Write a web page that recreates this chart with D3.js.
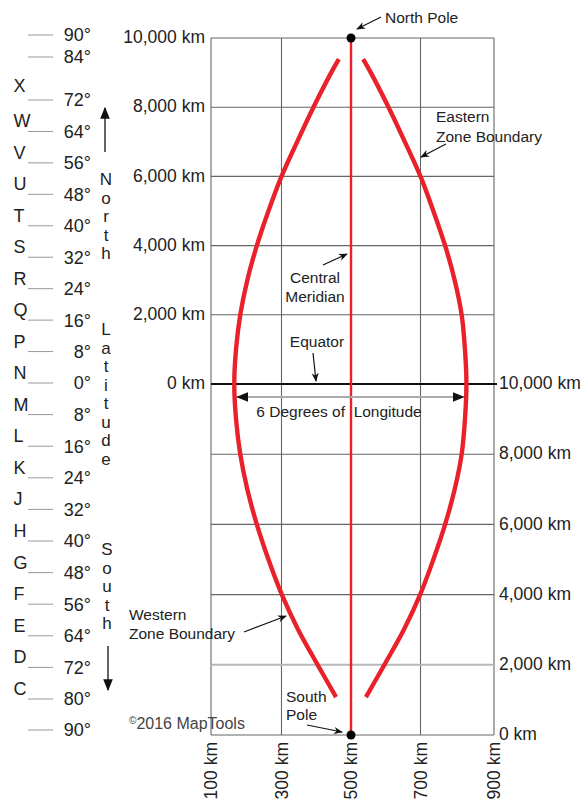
<!DOCTYPE html>
<html><head><meta charset="utf-8">
<script src="https://cdn.jsdelivr.net/npm/d3@7"></script>
<style>
html,body{margin:0;padding:0;background:#fff;}
svg{display:block;font-family:"Liberation Sans",Arial,Helvetica,sans-serif;}
</style></head>
<body>
<script>
// ---- data ----
const eastingTicks = [100, 300, 500, 700, 900];               // km
const northTicks = [0, 2000, 4000, 6000, 8000, 10000];         // km north of equator
const southTicks = [0, 2000, 4000, 6000, 8000, 10000];         // km false northing (south)
// zone boundary curves: signed northing from the equator (km) and easting (km)
const boundaryNorthing = [9390, 9000, 8000, 7000, 6000, 5000, 4000, 3000, 2000, 1000, 0,
  -1000, -2000, -3000, -4000, -5000, -6000, -7000, -8000, -8920];
const westEasting = [465, 443, 392, 345, 300, 263, 230, 203, 183, 171, 166,
  171, 183, 203, 230, 263, 301, 348, 404, 457];
const eastEasting = [535, 557, 608, 655, 700, 735, 767, 793, 812, 821, 825,
  821, 812, 793, 767, 735, 699, 652, 596, 543];
const centralMeridian = 500;
// latitude band column
const latNorth = [90, 84, 72, 64, 56, 48, 40, 32, 24, 16, 8, 0];
const latSouth = [8, 16, 24, 32, 40, 48, 56, 64, 72, 80, 90];
const zoneLetters = ["X","W","V","U","T","S","R","Q","P","N","M","L","K","J","H","G","F","E","D","C"];
const zoneLetterLat = [72, 64, 56, 48, 40, 32, 24, 16, 8, 0, -8, -16, -24, -32, -40, -48, -56, -64, -72, -80];
const wordNorth = "North", wordLat = "Latitude", wordSouth = "South";

// ---- layout ----
const W = 585, H = 800;
const svg = d3.select("body").append("svg").attr("width", W).attr("height", H);
const x = d3.scaleLinear().domain([100, 300, 500, 700, 900]).range([211, 281.5, 351, 420.5, 494]);
const y = d3.scaleLinear().domain([-10000, 0, 10000]).range([735, 384, 38]);
const ySouth = v => y(v - 10000);
const latY = d3.scaleLinear().domain([-90, -80, 0, 72, 84, 90]).range([730, 699, 383, 100, 57, 35]);
const RED = "#e8212b", TXT = "#222";

const defs = svg.append("defs");
defs.append("marker").attr("id", "ah").attr("viewBox", "0 0 10 10").attr("refX", 9).attr("refY", 5)
  .attr("markerWidth", 9).attr("markerHeight", 9).attr("markerUnits", "userSpaceOnUse").attr("orient", "auto-start-reverse")
  .append("path").attr("d", "M0,1 L10,5 L0,9 L3,5 Z").attr("fill", "#111");
defs.append("marker").attr("id", "ah2").attr("viewBox", "0 0 10 10").attr("refX", 9).attr("refY", 5)
  .attr("markerWidth", 12).attr("markerHeight", 12).attr("markerUnits", "userSpaceOnUse").attr("orient", "auto-start-reverse")
  .append("path").attr("d", "M0,1 L10,5 L0,9 Z").attr("fill", "#111");

// ---- grid ----
const g = svg.append("g");
g.selectAll("line.v").data(eastingTicks).join("line")
  .attr("x1", d => x(d)).attr("x2", d => x(d)).attr("y1", y(10000)).attr("y2", y(-10000))
  .attr("stroke", "#666").attr("stroke-width", 1.1);
g.selectAll("line.hn").data(northTicks.filter(d => d > 0)).join("line")
  .attr("x1", x(100)).attr("x2", x(900)).attr("y1", d => y(d)).attr("y2", d => y(d))
  .attr("stroke", "#666").attr("stroke-width", 1.1);
g.selectAll("line.hs").data(southTicks.filter(d => d < 10000)).join("line")
  .attr("x1", x(100)).attr("x2", x(900)).attr("y1", d => ySouth(d)).attr("y2", d => ySouth(d))
  .attr("stroke", d => d === 2000 ? "#b8b8b8" : "#666").attr("stroke-width", d => d === 2000 ? 2 : 1.1);
// equator
g.append("line").attr("x1", x(100)).attr("x2", x(900) + 3).attr("y1", y(0)).attr("y2", y(0))
  .attr("stroke", "#111").attr("stroke-width", 2.2);

// ---- axis labels ----
const FS = 17.5;
svg.selectAll("text.ln").data(northTicks).join("text")
  .attr("x", 205).attr("y", d => y(d)).attr("dy", "0.3em").attr("text-anchor", "end")
  .attr("font-size", FS).attr("fill", TXT).text(d => d3.format(",")(d) + " km");
svg.selectAll("text.rs").data(southTicks).join("text")
  .attr("x", 499).attr("y", d => ySouth(d)).attr("dy", "0.3em")
  .attr("font-size", FS).attr("fill", TXT).text(d => d3.format(",")(d) + " km");
svg.selectAll("text.bx").data(eastingTicks).join("text")
  .attr("transform", d => `translate(${x(d)},${y(-10000) + 7}) rotate(-90)`)
  .attr("dy", "0.36em").attr("text-anchor", "end")
  .attr("font-size", FS).attr("fill", TXT).text(d => d + " km");

// ---- zone boundaries ----
const line = d3.line().curve(d3.curveCatmullRom.alpha(0.5));
svg.append("path").attr("d", line(boundaryNorthing.map((n, i) => [x(westEasting[i]), y(n)])))
  .attr("fill", "none").attr("stroke", RED).attr("stroke-width", 4.4).attr("stroke-linecap", "butt");
svg.append("path").attr("d", line(boundaryNorthing.map((n, i) => [x(eastEasting[i]), y(n)])))
  .attr("fill", "none").attr("stroke", RED).attr("stroke-width", 4.4).attr("stroke-linecap", "butt");
svg.append("line").attr("x1", x(centralMeridian)).attr("x2", x(centralMeridian))
  .attr("y1", y(10000)).attr("y2", y(-10000)).attr("stroke", RED).attr("stroke-width", 2.4);
svg.selectAll("circle.pole").data([10000, -10000]).join("circle")
  .attr("cx", x(centralMeridian)).attr("cy", d => y(d)).attr("r", 4.5).attr("fill", "#000");

// ---- annotations ----
const AFS = 15.5;
function txt(lines, x0, y0, anchor, lh) {
  const t = svg.append("text").attr("x", x0).attr("y", y0).attr("font-size", AFS).attr("fill", TXT)
    .attr("text-anchor", anchor || "start");
  lines.forEach((s, i) => t.append("tspan").attr("x", x0).attr("dy", i ? (lh || 19) : 0).text(s));
  return t;
}
function arrow(x1, y1, x2, y2, m) {
  svg.append("line").attr("x1", x1).attr("y1", y1).attr("x2", x2).attr("y2", y2)
    .attr("stroke", "#111").attr("stroke-width", 1.2).attr("marker-end", `url(#${m || "ah"})`);
}
txt(["North Pole"], 385, 23);
arrow(381, 17, 357, 29);
txt(["Eastern", "Zone Boundary"], 436, 122, "start", 20);
arrow(446, 144, 421, 157);
txt(["Central", "Meridian"], 315, 283, "middle", 19);
arrow(323, 265, 347, 254);
txt(["Equator"], 317, 347, "middle");
arrow(313, 353, 316, 381);
// longitude span
svg.append("line").attr("x1", x(westEasting[10]) + 3).attr("x2", x(eastEasting[10]) - 3)
  .attr("y1", 397).attr("y2", 397).attr("stroke", "#aaa").attr("stroke-width", 2.2)
  .attr("marker-start", "url(#ah2)").attr("marker-end", "url(#ah2)");
txt(["6 Degrees of \u00a0Longitude"], 339, 417, "middle");
txt(["Western", "Zone Boundary"], 129, 620, "start", 19);
arrow(244, 632, 286, 616);
txt(["South", "Pole"], 286, 702, "start", 18);
arrow(307, 725, 342, 732);
const c = svg.append("text").attr("x", 129).attr("y", 729).attr("font-size", 16).attr("fill", "#444");
c.append("tspan").attr("font-size", 10).attr("dy", -5).text("\u00a9");
c.append("tspan").attr("dy", 5).text("2016 MapTools");

// ---- latitude column ----
const lat = svg.append("g").attr("font-size", 18).attr("fill", TXT);
const latAll = latNorth.map(v => ({ v, s: v })).concat(latSouth.map(v => ({ v: -v, s: v })));
lat.selectAll("line").data(latAll).join("line")
  .attr("x1", 28).attr("x2", 53).attr("y1", d => latY(d.v)).attr("y2", d => latY(d.v))
  .attr("stroke", "#999").attr("stroke-width", 1);
lat.selectAll("text.lt").data(latAll).join("text")
  .attr("x", 91).attr("y", d => latY(d.v)).attr("dy", "0.36em").attr("text-anchor", "end")
  .text(d => d.s + "\u00b0");
lat.selectAll("text.zl").data(zoneLetters).join("text")
  .attr("x", 13.5).attr("y", (d, i) => latY(zoneLetterLat[i]) - (d === "X" ? 8 : 4)).text(d => d);
function vword(word, cx, y0) {
  lat.selectAll(null).data(word.split("")).join("text")
    .attr("x", cx).attr("y", (d, i) => y0 + i * 18.5).attr("text-anchor", "middle").attr("font-size", 17).text(d => d);
}
vword(wordNorth, 106, 185);
vword(wordLat, 106, 335);
vword(wordSouth, 107, 555);
svg.append("line").attr("x1", 105).attr("x2", 105).attr("y1", 152).attr("y2", 108)
  .attr("stroke", "#111").attr("stroke-width", 1.3).attr("marker-end", "url(#ah2)");
svg.append("line").attr("x1", 108).attr("x2", 108).attr("y1", 646).attr("y2", 690)
  .attr("stroke", "#111").attr("stroke-width", 1.3).attr("marker-end", "url(#ah2)");
</script>
</body></html>
